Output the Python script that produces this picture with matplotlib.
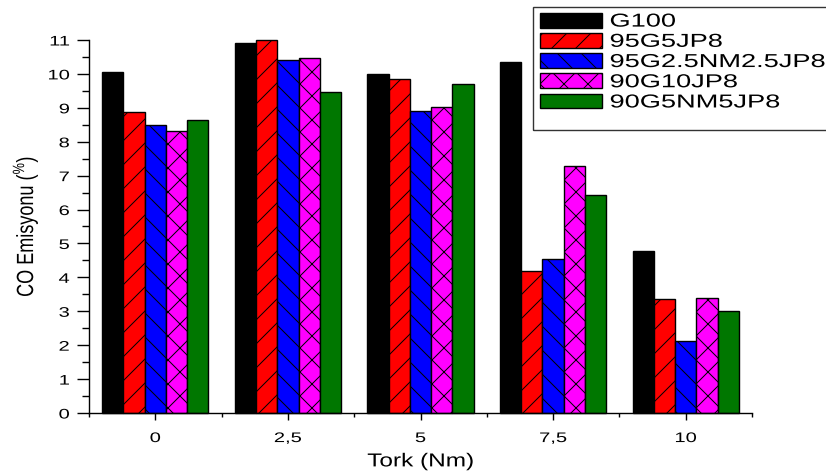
import matplotlib
matplotlib.use('Agg')
import matplotlib.pyplot as plt
import numpy as np
from matplotlib.ticker import MultipleLocator
from matplotlib.patheffects import AbstractPathEffect
from matplotlib.transforms import Affine2D
from matplotlib.patches import Rectangle

plt.rcParams['font.family'] = ['Liberation Sans', 'DejaVu Sans']
plt.rcParams['mathtext.fontset'] = 'custom'
plt.rcParams['mathtext.rm'] = 'Liberation Sans'
plt.rcParams['hatch.linewidth'] = 1.0

# Tork (Nm) kategorileri
tork = [0, 2.5, 5, 7.5, 10]
tork_labels = ['0', '2,5', '5', '7,5', '10']

# CO emisyonu (%) her yakıt için
g100 = [10.05, 10.92, 10.0, 10.36, 4.79]
g95_jp5 = [8.88, 11.0, 9.84, 4.19, 3.35]
g95_nm25 = [8.49, 10.40, 8.92, 4.54, 2.13]
g90_jp10 = [8.33, 10.48, 9.02, 7.27, 3.40]
g90_nm5 = [8.63, 9.46, 9.71, 6.43, 3.02]

series = [g100, g95_jp5, g95_nm25, g90_jp10, g90_nm5]
names = ['G100', '95G5JP8', '95G2.5NM2.5JP8', '90G10JP8', '90G5NM5JP8']
colors = ['#000000', '#ff0000', '#0000ff', '#ff00ff', '#007700']
hatches = ['', '/', '\\', 'x', '']

# dpi=72 -> tarama çizgileri 12 px aralıklı; boyutları 100 dpi'ye göre ölçekle
DPI = 72
K = 100 / DPI


class HStretch(AbstractPathEffect):
    """yazıyı yatay olarak genişlet (orijinal görüntü yatayda gerilmiş)"""

    def __init__(self, sx, anchor='center'):
        super().__init__()
        self.sx = sx
        self.anchor = anchor

    def draw_path(self, renderer, gc, tpath, affine, rgbFace=None):
        ext = tpath.transformed(affine).get_extents()
        if self.anchor == 'left':
            cx = ext.x0
        elif self.anchor == 'right':
            cx = ext.x1
        else:
            cx = (ext.x0 + ext.x1) / 2
        t = affine + Affine2D().translate(-cx, 0).scale(self.sx, 1).translate(cx, 0)
        renderer.draw_path(gc, tpath, t, rgbFace)


fig = plt.figure(figsize=(826 / DPI, 475 / DPI), dpi=DPI)
ax = fig.add_axes([89 / 826, 1 - 413 / 475, (752 - 89) / 826, (413 - 40) / 475])

x = np.array(tork)
w = 0.4
for i, (vals, name, c, h) in enumerate(zip(series, names, colors, hatches)):
    ax.bar(x + (i - 2) * w, vals, width=w, color=c, edgecolor='black',
           linewidth=1.0 * K, hatch=h, label=name, clip_on=False)

ax.set_xlim(-1.25, 11.25)
ax.set_ylim(0, 11)
ax.set_xticks(tork)
ax.set_xticklabels(tork_labels)
ax.xaxis.set_minor_locator(MultipleLocator(1.25))
ax.yaxis.set_major_locator(MultipleLocator(1))
ax.yaxis.set_minor_locator(MultipleLocator(0.5))

for s in ['top', 'right']:
    ax.spines[s].set_visible(False)
ax.spines['left'].set_linewidth(1.0 * K)
ax.spines['bottom'].set_linewidth(1.0 * K)

ax.tick_params(axis='x', which='major', direction='out', length=5 * K, width=K, labelsize=10 * K, pad=8 * K)
ax.tick_params(axis='x', which='minor', direction='out', length=3 * K, width=K)
ax.tick_params(axis='y', which='major', direction='out', length=9 * K, width=K, labelsize=10 * K, pad=5 * K)
ax.tick_params(axis='y', which='minor', direction='out', length=5 * K, width=K)

for lab in ax.get_xticklabels():
    lab.set_path_effects([HStretch(1.45)])
for lab in ax.get_yticklabels():
    lab.set_path_effects([HStretch(1.45, 'right')])

xl = ax.set_xlabel('Tork (Nm)', fontsize=13.5 * K, labelpad=6 * K)
xl.set_path_effects([HStretch(1.3)])
yl = ax.set_ylabel('CO Emisyonu ($^{\\%}$)', fontsize=13 * K)
yl.set_path_effects([HStretch(1.3)])
ax.yaxis.set_label_coords(-0.078, 0.5)

leg = ax.legend(loc='upper left', bbox_to_anchor=(534 / 826, 1 - 7 / 475),
                bbox_transform=fig.transFigure, fontsize=13.5 * K, frameon=False,
                handlelength=3.3, handleheight=0.85, handletextpad=0.45,
                labelspacing=0.12, borderpad=0.3, borderaxespad=0)
for t in leg.get_texts():
    t.set_path_effects([HStretch(1.45, 'left')])
fig.patches.append(Rectangle((533 / 826, 1 - 130 / 475), 0.5, 123 / 475,
                             transform=fig.transFigure, fill=False,
                             edgecolor='#333333', linewidth=1.0 * K))

fig.savefig('out.png', dpi=DPI)
